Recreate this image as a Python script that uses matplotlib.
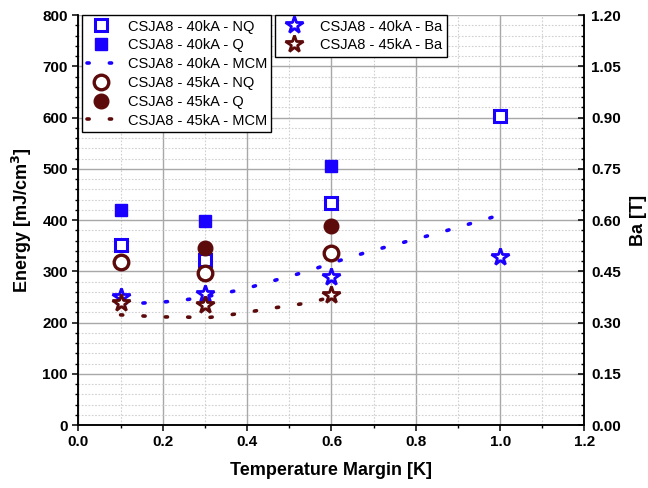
import matplotlib
matplotlib.use("Agg")
import matplotlib.pyplot as plt
from matplotlib.ticker import MultipleLocator, FormatStrFormatter

plt.rcParams['font.family'] = ['Liberation Sans', 'DejaVu Sans']

BLUE = '#1a00ff'
BROWN = '#5c0a0a'

# measured points (temperature margin in K)
tm = [0.1, 0.3, 0.6, 1.0]
e40_nq = [351, 323, 433, 603]
tm_q40 = [0.1, 0.3, 0.6]
e40_q = [420, 398, 505]
tm45 = [0.1, 0.3, 0.6]
e45_nq = [319, 296, 335]
e45_q = [346, 388]
tm_q45 = [0.3, 0.6]

# applied field
ba40 = [0.376, 0.383, 0.433, 0.492]
ba45 = [0.356, 0.351, 0.381]

# MCM curves
mcm40_x = [0.1, 0.15, 0.2, 0.25, 0.3, 0.35, 0.4, 0.45, 0.5, 0.55, 0.6, 0.65,
           0.7, 0.75, 0.8, 0.85, 0.9, 0.95, 1.0]
mcm40_y = [241, 238, 240, 244, 250, 258, 267, 279, 290, 302, 316, 329,
           341, 352, 363, 374, 386, 398, 410]
mcm45_x = [0.1, 0.15, 0.2, 0.25, 0.3, 0.35, 0.4, 0.45, 0.5, 0.55, 0.6]
mcm45_y = [215, 213, 211, 211, 209, 214, 220, 227, 233, 239, 250]

fig = plt.figure(figsize=(6.48, 4.88), dpi=100)
ax = fig.add_axes([0.121, 0.129, 0.781, 0.840])
ax2 = ax.twinx()

dot = dict(linestyle=(0, (0.6, 5.6)), lw=2.6, dash_capstyle='round')
ms_sq, ms_c, ms_st = 8.5, 10.5, 13

l1, = ax.plot(tm, e40_nq, 's', ms=ms_sq, mfc='white', mec=BLUE, mew=2.2,
              label='CSJA8 - 40kA - NQ', zorder=4)
l2, = ax.plot(tm_q40, e40_q, 's', ms=ms_sq, color=BLUE,
              label='CSJA8 - 40kA - Q', zorder=4)
l3, = ax.plot(mcm40_x, mcm40_y, color=BLUE, label='CSJA8 - 40kA - MCM',
              zorder=3, **dot)
l4, = ax.plot(tm45, e45_nq, 'o', ms=ms_c, mfc='white', mec=BROWN, mew=2.4,
              label='CSJA8 - 45kA - NQ', zorder=4)
l5, = ax.plot(tm_q45, e45_q, 'o', ms=ms_c, color=BROWN,
              label='CSJA8 - 45kA - Q', zorder=4)
l6, = ax.plot(mcm45_x, mcm45_y, color=BROWN, label='CSJA8 - 45kA - MCM',
              zorder=3, **dot)

s1, = ax2.plot(tm, ba40, '*', ms=ms_st, mfc='white', mec=BLUE, mew=2.0,
               label='CSJA8 - 40kA - Ba')
s2, = ax2.plot(tm45, ba45, '*', ms=ms_st, mfc='white', mec=BROWN, mew=2.0,
               label='CSJA8 - 45kA - Ba')

ax.set_xlim(0, 1.2)
ax.set_ylim(0, 800)
ax2.set_ylim(0, 1.2)

ax.xaxis.set_major_locator(MultipleLocator(0.2))
ax.xaxis.set_minor_locator(MultipleLocator(0.1))
ax.xaxis.set_major_formatter(FormatStrFormatter('%.1f'))
ax.yaxis.set_major_locator(MultipleLocator(100))
ax.yaxis.set_minor_locator(MultipleLocator(20))
ax2.yaxis.set_major_locator(MultipleLocator(0.15))
ax2.yaxis.set_minor_locator(MultipleLocator(0.03))
ax2.yaxis.set_major_formatter(FormatStrFormatter('%.2f'))

ax.grid(which='major', color='#a8a8a8', lw=1.0)
ax.grid(which='minor', color='#d0d0d0', lw=0.8, linestyle=(0, (1.5, 1.5)))
ax.set_axisbelow(True)

for a in (ax, ax2):
    a.spines['top'].set_visible(False)
    for s in a.spines.values():
        s.set_linewidth(1.1)

ax.tick_params(which='major', direction='out', length=4.5, width=1.1,
               labelsize=11, pad=3)
ax.tick_params(which='minor', direction='out', length=2.5, width=1.0)
ax.tick_params(axis='x', which='both', top=False)
ax2.tick_params(which='major', direction='in', length=4.5, width=1.1,
                labelsize=11, pad=5)
ax2.tick_params(which='minor', direction='in', length=2.5, width=1.0)
for lab in ax.get_xticklabels() + ax.get_yticklabels() + ax2.get_yticklabels():
    lab.set_fontweight('bold')

ax.set_xlabel('Temperature Margin [K]', fontsize=13, fontweight='bold', labelpad=9)
ax.set_ylabel('Energy [mJ/cm$^\\mathbf{3}$]', fontsize=13, fontweight='bold', labelpad=6)
ax2.set_ylabel('Ba [T]', fontsize=13, fontweight='bold', labelpad=6)

leg_kw = dict(fontsize=10.5, frameon=True, fancybox=False, framealpha=1,
              edgecolor='black', borderaxespad=0, labelspacing=0.33,
              handlelength=2.0, handletextpad=0.8, borderpad=0.3)
leg1 = ax.legend(handles=[l1, l2, l3, l4, l5, l6], loc='upper left',
                 bbox_to_anchor=(0.008, 1.0), **leg_kw)
leg1.get_frame().set_linewidth(1.0)
leg2 = ax2.legend(handles=[s1, s2], loc='upper left',
                  bbox_to_anchor=(0.388, 1.0), **leg_kw)
leg2.get_frame().set_linewidth(1.0)

fig.savefig('out.png', dpi=100)
